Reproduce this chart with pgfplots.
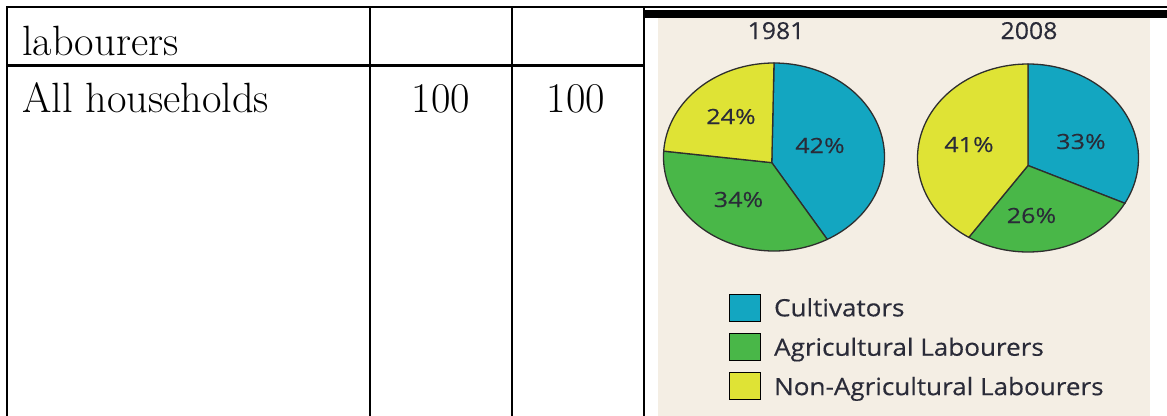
\documentclass[border=0pt]{standalone}
\usepackage{pgfplots}
\pgfplotsset{compat=1.18}
\usepackage{fontspec}
\newfontfamily\piefont{Open Sans}[FakeStretch=1.06, FakeBold=0.4]
\newfontfamily\legfont{Open Sans}[FakeStretch=1.09, FakeBold=0.4]
\newfontfamily\pctfont{Open Sans}[FakeStretch=1.2, FakeBold=0.4]
\definecolor{cblue}{HTML}{13A6C1}
\definecolor{cgreen}{HTML}{49B748}
\definecolor{cyellow}{HTML}{DFE335}
\definecolor{beige}{HTML}{F4EEE4}
\definecolor{ink}{HTML}{2A2B38}
\definecolor{edge}{HTML}{2E2E2E}
% shares (%) : Cultivators, Agricultural Labourers, Non-Agricultural Labourers
\def\cA{42}\def\gA{34}\def\yA{24}   % 1981
\def\cB{33}\def\gB{26}\def\yB{41}   % 2008
\pgfmathsetmacro\aAone{90-3.6*\cA}
\pgfmathsetmacro\aAtwo{90-3.6*(\cA+\gA)}
\pgfmathsetmacro\aAthree{90-3.6*(\cA+\gA+\yA)}
\pgfmathsetmacro\aBone{90-3.6*\cB}
\pgfmathsetmacro\aBtwo{90-3.6*(\cB+\gB)}
\pgfmathsetmacro\aBthree{90-3.6*(\cB+\gB+\yB)}
\pgfplotsset{pie/.style={width=221bp, height=188bp, scale only axis,
  xmin=-1, xmax=1, ymin=-1, ymax=1, hide axis, clip=false}}
\begin{document}
\begin{tikzpicture}
\path[use as bounding box] (0,0) rectangle (1167bp,-416bp);
\begin{scope}[x=1bp,y=-1bp]
\fill[beige] (658,18) rectangle (1150,416);
\fill[black] (644,9.5) rectangle (1167,18.3);
\draw[line width=2.4bp] (6,7) -- (1167,7);
\draw[line width=2.6bp] (7,6) -- (7,416);
\draw[line width=2.6bp] (370,6) -- (370,416);
\draw[line width=2.6bp] (512,6) -- (512,416);
\draw[line width=2.6bp] (644,6) -- (644,416);
\draw[line width=2.6bp] (7,65.5) -- (644,65.5);
\begin{scope}[every node/.style={inner sep=0pt, font=\fontsize{42.5}{48}\selectfont\addfontfeatures{FakeBold=0.6}}]
\node[anchor=base west] at (22,55) {labourers};
\node[anchor=base west] at (22,112) {All households};
\node[anchor=base] at (441,112) {100};
\node[anchor=base] at (576,112) {100};
\end{scope}
\begin{scope}[every node/.style={inner sep=0pt, text=ink, anchor=base, font=\piefont\fontsize{23.5}{28}\selectfont}]
\node at (776,39) {1981};
\node at (1029,39) {2008};
\end{scope}
\end{scope}

\begin{axis}[pie, at={(774bp,-157bp)}, anchor=center,
  legend cell align=left,
  legend style={at={(axis description cs:0.2964,-0.2257)}, anchor=north west,
    draw=none, fill=none, inner sep=0pt, row sep=12bp,
    font=\legfont\fontsize{24}{28}\selectfont, text=ink,
    nodes={anchor=base west, inner sep=0pt, text height=17bp, text depth=4.5bp},
    /tikz/every odd column/.append style={column sep=13.5bp}},
  legend image code/.code={\fill[#1] (0bp,-4.5bp) rectangle (31bp,22.5bp);}]
\addlegendimage{fill=cblue}
\addlegendimage{fill=cgreen}
\addlegendimage{fill=cyellow}
\addplot[forget plot, fill=cblue, draw=edge, line width=1.3bp, domain=90:\aAone, samples=90, variable=\t]
  ({cos(\t)},{sin(\t)}) -- (axis cs:-0.02,-0.06) -- cycle;
\addplot[forget plot, fill=cgreen, draw=edge, line width=1.3bp, domain=\aAone:\aAtwo, samples=90, variable=\t]
  ({cos(\t)},{sin(\t)}) -- (axis cs:-0.02,-0.06) -- cycle;
\addplot[forget plot, fill=cyellow, draw=edge, line width=1.3bp, domain=\aAtwo:\aAthree, samples=90, variable=\t]
  ({cos(\t)},{sin(\t)}) -- (axis cs:-0.02,-0.06) -- cycle;
\legend{Cultivators, Agricultural Labourers, Non-Agricultural Labourers}
\end{axis}

\begin{axis}[pie, at={(1028bp,-158bp)}, anchor=center]
\addplot[fill=cblue, draw=edge, line width=1.3bp, domain=90:\aBone, samples=90, variable=\t]
  ({cos(\t)},{sin(\t)}) -- (axis cs:0,-0.08) -- cycle;
\addplot[fill=cgreen, draw=edge, line width=1.3bp, domain=\aBone:\aBtwo, samples=90, variable=\t]
  ({cos(\t)},{sin(\t)}) -- (axis cs:0,-0.08) -- cycle;
\addplot[fill=cyellow, draw=edge, line width=1.3bp, domain=\aBtwo:\aBthree, samples=90, variable=\t]
  ({cos(\t)},{sin(\t)}) -- (axis cs:0,-0.08) -- cycle;
\end{axis}

\begin{scope}[x=1bp,y=-1bp, every node/.style={inner sep=0pt, text=ink, anchor=base, font=\pctfont\fontsize{21}{25}\selectfont}]
\node at (731,124) {24\%};
\node at (820,153) {42\%};
\node at (738.5,207) {34\%};
\node at (969,152) {41\%};
\node at (1081,149) {33\%};
\node at (1031.5,223) {26\%};
\end{scope}
\end{tikzpicture}
\end{document}
